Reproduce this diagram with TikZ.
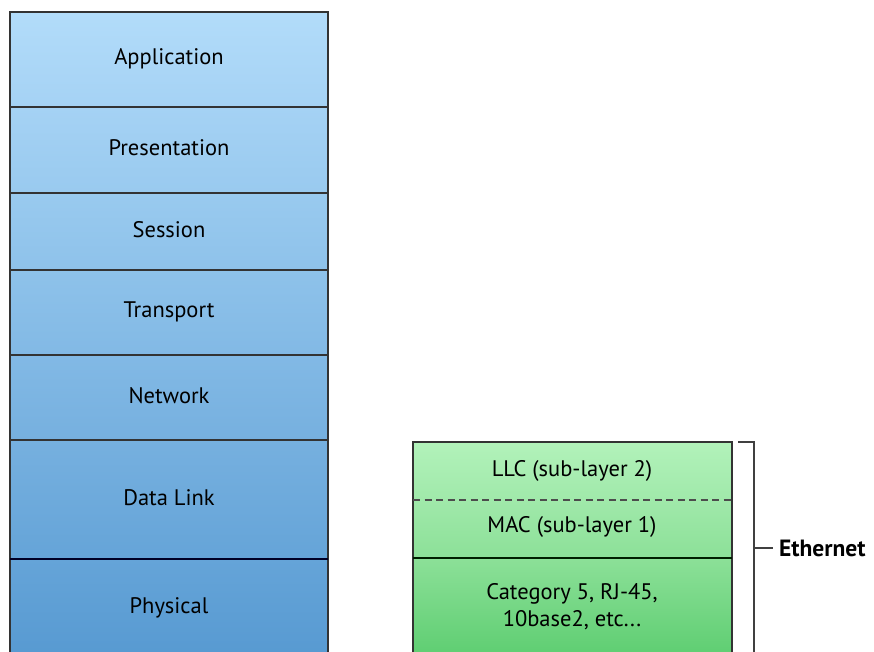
\documentclass[tikz,border=0pt]{standalone}
\usepackage{fontspec}
\setmainfont{PT Sans}
\begin{document}
\begin{tikzpicture}[x=1pt,y=-1pt,
  cell/.style={draw=black!80, line width=1.4pt, inner sep=0pt},
  lbl/.style={font=\fontsize{22.5}{27}\selectfont, align=center, inner sep=0pt},
  sep/.style={line width=2.6pt, draw=black!75!blue!60!black}]
\definecolor{b0}{RGB}{178,220,250}
\definecolor{b1}{RGB}{165,210,244}
\definecolor{b2}{RGB}{153,202,239}
\definecolor{b3}{RGB}{142,194,234}
\definecolor{b4}{RGB}{130,185,229}
\definecolor{b5}{RGB}{118,176,223}
\definecolor{b6}{RGB}{101,164,216}
\definecolor{b7}{RGB}{86,153,209}
\definecolor{g0}{RGB}{178,242,186}
\definecolor{g1}{RGB}{160,233,170}
\definecolor{g2}{RGB}{140,224,152}
\definecolor{g3}{RGB}{90,204,110}
\useasboundingbox (0,0) rectangle (874,651);
\fill[white] (0,0) rectangle (874,651);
\clip (0,0) rectangle (874,651);

% OSI model stack
\path[cell, top color=b0, bottom color=b1] (10,12) rectangle (328,107);
\path[cell, top color=b1, bottom color=b2] (10,107) rectangle (328,193);
\path[cell, top color=b2, bottom color=b3] (10,193) rectangle (328,270);
\path[cell, top color=b3, bottom color=b4] (10,270) rectangle (328,355);
\path[cell, top color=b4, bottom color=b5] (10,355) rectangle (328,440);
\path[cell, top color=b5, bottom color=b6] (10,440) rectangle (328,559);
\path[cell, top color=b6, bottom color=b7] (10,559) rectangle (328,665);
\draw[sep] (10,559) -- (328,559);

\node[lbl] (app)  at (169,59)  {Application};
\node[lbl] (pres) at (169,148) {Presentation};
\node[lbl] (sess) at (169,230) {Session};
\node[lbl] (trans) at (169,312) {Transport};
\node[lbl] (net)  at (169,396) {Network};
\node[lbl] (dl)   at (169,498) {Data Link};
\node[lbl] (phy)  at (169,608) {Physical};

% Ethernet stack: fills first, then outline and separators
\shade[top color=g0, bottom color=g1] (413,442) rectangle (732,500);
\shade[top color=g1, bottom color=g2] (413,500) rectangle (732,558);
\shade[top color=g2, bottom color=g3] (413,558) rectangle (732,665);
\draw[draw=black!80, line width=1.4pt] (413,442) rectangle (732,665);
\draw[line width=2.2pt, draw=black!70, dash pattern=on 7pt off 4.5pt] (413,500) -- (732,500);
\draw[line width=2.6pt, draw=black!70!green!40!black] (413,558) -- (732,558);

\node[lbl] (llc) at (572,471) {LLC (sub-layer 2)};
\node[lbl] (mac) at (572,527) {MAC (sub-layer 1)};
\node[lbl] (cat) at (572,607) {Category 5, RJ-45,\\10base2, etc...};

% Bracket and label
\coordinate (bt) at (738,442);
\coordinate (bc) at (754,442);
\coordinate (bb) at (754,665);
\coordinate (bm) at (754,548);
\draw[line width=1.6pt, draw=black!75] (bt) -- (bc) -- (bb);
\node[lbl, font=\bfseries\fontsize{23.5}{28}\selectfont, anchor=west] (eth) at (779,548) {Ethernet};
\draw[line width=1.6pt, draw=black!75] (bm) -- (eth.west -| 773,0);
\end{tikzpicture}
\end{document}
